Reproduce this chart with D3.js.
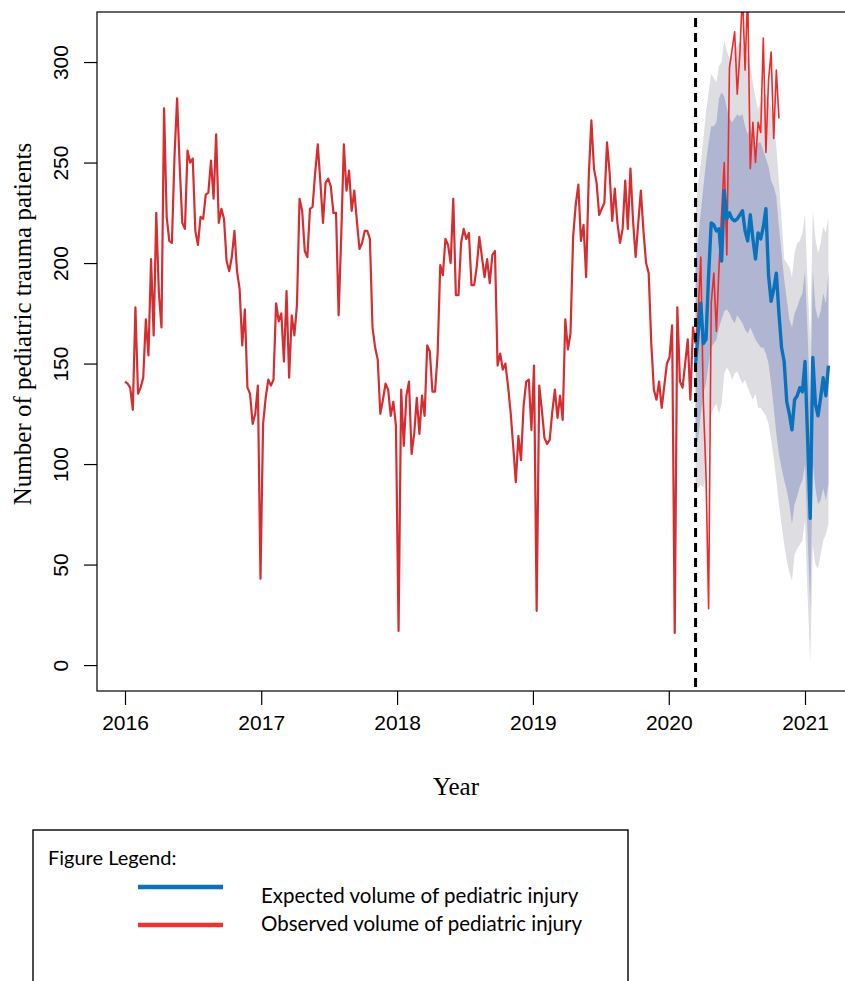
<!DOCTYPE html>
<html>
<head>
<meta charset="utf-8">
<script src="https://cdn.jsdelivr.net/npm/d3@7/dist/d3.min.js"></script>
<style>
  html, body { margin: 0; padding: 0; background: #fff; }
  svg { display: block; }
</style>
</head>
<body>
<svg id="chart" width="845" height="981"></svg>
<script>
// Weekly counts of pediatric trauma patients, first week starting 2016-01-01
const seriesStart = Date.UTC(2016, 0, 1);

const observed = [
  141,140,138,127,178,135,138,143,172,154,202,164,225,185,168,277,223,211,210,253,282,248,220,217,256,250,252,216,209,223,222,234,235,251,232,264,220,227,222,201,196,203,216,196,187,159,177,138,135,120,125,139,43,
  120,133,142,139,142,180,171,175,151,186,143,174,164,179,232,226,206,203,227,228,245,259,240,220,240,242,238,225,225,174,214,259,236,246,226,236,221,207,210,216,216,212,168,158,152,125,132,140,137,124,131,119,17,
  137,109,134,141,105,115,133,115,134,124,159,156,136,136,155,199,194,212,209,200,232,184,184,210,217,212,215,189,189,198,213,203,193,202,190,204,206,149,155,147,150,139,126,109,91,114,102,129,141,142,117,149,27,
  139,127,113,110,112,126,137,123,134,122,172,157,165,213,229,239,211,219,193,243,271,247,240,224,227,230,260,245,221,237,220,210,217,241,217,247,221,203,220,236,216,200,195,160,137,132,141,128,139,150,153,169,16,
  178,141,138,150,162,132,168,160,175,203,130,95,28,180,195,166,198,225,250,204,297,306,315,284,304,335,296,335,247,270,250,270,265,312,255,291,305,262,296,272
];

// Forecast begins at this week index (pandemic onset)
const forecastStartWeek = 219;

const expected = [
  150,165,180,160,162,194,220,219,216,217,
  201,236,222,225,222,221,222,224,226,216,
  211,224,212,202,215,212,218,227,194,181,
  187,195,175,158,151,131,125,117,132,134,
  138,136,151,113,73,153,130,124,133,143,
  134,149
];

// Outer (light grey) and inner (blue-grey) prediction bands
const outerUpper = [
  225,240,250,262,275,285,294,292,290,298,
  300,311,305,302,303,306,308,310,308,305,
  302,298,290,282,276,280,283,284,280,278,
  270,258,240,222,202,200,198,193,205,210,
  211,215,224,190,160,226,212,205,210,218,
  215,223
];
const innerUpper = [
  200,212,225,238,250,260,268,268,270,282,
  285,283,277,272,270,272,274,273,274,268,
  264,268,262,258,260,260,256,252,248,241,
  238,233,218,205,192,182,172,168,175,178,
  182,185,196,165,130,196,178,172,176,185,
  180,195
];
const innerLower = [
  110,112,125,135,140,150,158,160,162,168,
  172,176,177,175,172,170,174,172,170,167,
  165,168,165,162,160,158,158,155,150,140,
  128,115,105,98,92,87,80,70,80,84,
  89,92,100,65,28,100,88,80,82,88,
  82,90
];
const outerLower = [
  88,88,90,88,95,110,125,128,130,125,
  130,145,148,146,142,145,146,143,140,142,
  138,135,132,135,128,128,126,124,120,112,
  103,92,80,70,60,52,46,42,55,58,
  60,62,72,35,1,60,50,48,55,62,
  65,70
];

const yearTicks = [2016, 2017, 2018, 2019, 2020, 2021];
const countTicks = [0, 50, 100, 150, 200, 250, 300];

const legendLabels = ["Expected volume of pediatric injury", "Observed volume of pediatric injury"];
const colors = { expected: "#0a72bd", observed: "#d62d31", observedLate: "#ee2b2b", inner: "#b0b6d1", outer: "#dddde2" };

const weekDate = i => new Date(seriesStart + i * 7 * 86400000);

const svg = d3.select("#chart");
const plot = { left: 97, right: 861, top: 12, bottom: 691 };

const x = d3.scaleUtc()
  .domain([new Date(Date.UTC(2016, 0, 1)), new Date(Date.UTC(2021, 0, 1))])
  .range([125, 805]);
const y = d3.scaleLinear()
  .domain([-12.9, 324.9])
  .range([plot.bottom, plot.top]);

svg.append("defs").append("clipPath").attr("id", "plotClip")
  .append("rect")
  .attr("x", plot.left).attr("y", plot.top)
  .attr("width", plot.right - plot.left).attr("height", plot.bottom - plot.top);

const g = svg.append("g").attr("clip-path", "url(#plotClip)");

const forecastRows = expected.map((v, k) => ({
  date: weekDate(forecastStartWeek + k),
  v, ou: outerUpper[k], iu: innerUpper[k], il: innerLower[k], ol: outerLower[k]
}));

g.append("path").datum(forecastRows)
  .attr("fill", colors.outer)
  .attr("d", d3.area().x(d => x(d.date)).y0(d => y(d.ol)).y1(d => y(d.ou)));
g.append("path").datum(forecastRows)
  .attr("fill", colors.inner)
  .attr("d", d3.area().x(d => x(d.date)).y0(d => y(d.il)).y1(d => y(d.iu)));

const obsRows = observed.map((v, i) => ({ date: weekDate(i), v }));
const line = d3.line().x(d => x(d.date)).y(d => y(d.v));

g.append("path").datum(obsRows.slice(0, forecastStartWeek + 1))
  .attr("fill", "none").attr("stroke", colors.observed)
  .attr("stroke-width", 2.2).attr("stroke-linejoin", "round")
  .attr("d", line);
g.append("path").datum(obsRows.slice(forecastStartWeek))
  .attr("fill", "none").attr("stroke", colors.observedLate)
  .attr("stroke-width", 1.6).attr("stroke-linejoin", "round")
  .attr("d", line);

g.append("path").datum(forecastRows)
  .attr("fill", "none").attr("stroke", colors.expected)
  .attr("stroke-width", 3.4).attr("stroke-linejoin", "round")
  .attr("d", line);

// Dashed marker at the start of the forecast
const cut = x(weekDate(forecastStartWeek));
svg.append("line")
  .attr("x1", cut).attr("x2", cut)
  .attr("y1", 18).attr("y2", plot.bottom)
  .attr("stroke", "#000").attr("stroke-width", 3)
  .attr("stroke-dasharray", "9,6");

// Plot frame
svg.append("rect")
  .attr("x", plot.left).attr("y", plot.top)
  .attr("width", plot.right - plot.left).attr("height", plot.bottom - plot.top)
  .attr("fill", "none").attr("stroke", "#000").attr("stroke-width", 1.2);

// X axis
const xAxis = d3.axisBottom(x)
  .tickValues(yearTicks.map(yr => new Date(Date.UTC(yr, 0, 1))))
  .tickFormat(d3.utcFormat("%Y"))
  .tickSize(14).tickSizeOuter(0).tickPadding(10);
const xg = svg.append("g").attr("transform", `translate(0,${plot.bottom})`).call(xAxis);
xg.select(".domain").remove();
xg.selectAll("line").attr("stroke", "#000").attr("stroke-width", 1.2);
xg.selectAll("text")
  .attr("fill", "#000")
  .style("font-family", "'Liberation Sans', Arial, sans-serif")
  .style("font-size", "21px");

// Y axis with rotated labels
const yAxis = d3.axisLeft(y).tickValues(countTicks).tickSize(13).tickSizeOuter(0).tickFormat(d3.format("d"));
const yg = svg.append("g").attr("transform", `translate(${plot.left},0)`).call(yAxis);
yg.select(".domain").remove();
yg.selectAll("line").attr("stroke", "#000").attr("stroke-width", 1.2);
yg.selectAll("text")
  .attr("x", null).attr("dy", null)
  .attr("text-anchor", "middle")
  .attr("transform", "translate(-29,0) rotate(-90)")
  .attr("fill", "#000")
  .style("font-family", "'Liberation Sans', Arial, sans-serif")
  .style("font-size", "21px");

// Axis titles
svg.append("text")
  .attr("transform", "translate(31,324) rotate(-90)")
  .attr("text-anchor", "middle")
  .style("font-family", "'Liberation Serif', 'Times New Roman', serif")
  .style("font-size", "25px")
  .text("Number of pediatric trauma patients");
svg.append("text")
  .attr("x", 456).attr("y", 795)
  .attr("text-anchor", "middle")
  .style("font-family", "'Liberation Serif', 'Times New Roman', serif")
  .style("font-size", "25px")
  .text("Year");

// Legend box
const lg = svg.append("g");
lg.append("rect")
  .attr("x", 33).attr("y", 830).attr("width", 595).attr("height", 170)
  .attr("fill", "#fff").attr("stroke", "#000").attr("stroke-width", 1.4);
lg.append("text")
  .attr("x", 48).attr("y", 865)
  .style("font-family", "Lato, 'Open Sans', sans-serif")
  .style("font-size", "20px")
  .text("Figure Legend:");
const legendColors = [colors.expected, "#ee3333"];
const legendLineY = [887, 925];
const legendTextY = [903, 931];
legendLabels.forEach((lab, k) => {
  lg.append("line")
    .attr("x1", 138).attr("x2", 223)
    .attr("y1", legendLineY[k]).attr("y2", legendLineY[k])
    .attr("stroke", legendColors[k]).attr("stroke-width", 4.5);
  lg.append("text")
    .attr("x", 261).attr("y", legendTextY[k])
    .style("font-family", "Lato, 'Open Sans', sans-serif")
    .style("font-size", "20.5px")
    .text(lab);
});
</script>
</body>
</html>
